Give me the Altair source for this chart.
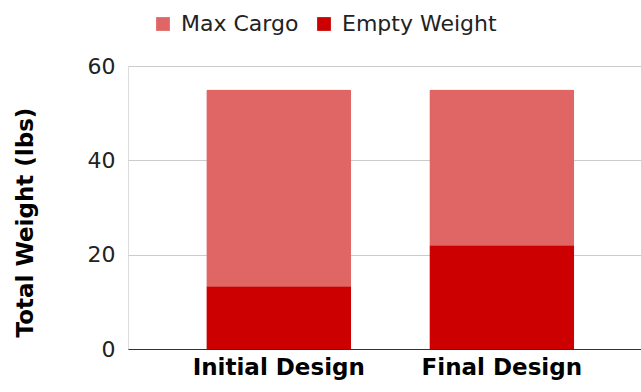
import altair as alt
import pandas as pd

designs = ["Initial Design", "Final Design"]
empty_weight = [13.3, 22.0]
max_cargo = [41.7, 33.0]
series = ["Max Cargo", "Empty Weight"]
colors = ["#E06666", "#CC0000"]

rows = []
for i, d in enumerate(designs):
    rows.append({"design": d, "series": "Empty Weight", "value": empty_weight[i], "stack": 0})
    rows.append({"design": d, "series": "Max Cargo", "value": max_cargo[i], "stack": 1})
df = pd.DataFrame(rows)

FONT = "DejaVu Sans"

chart = alt.Chart(df).mark_bar(cornerRadiusTopLeft=2, cornerRadiusTopRight=2).encode(
    x=alt.X(
        "design:N",
        sort=designs,
        scale=alt.Scale(paddingInner=0.35, paddingOuter=0.325, align=0.54),
        axis=alt.Axis(
            title=None,
            labelAngle=0,
            labelFont=FONT,
            labelFontSize=23,
            labelFontWeight="bold",
            labelColor="#000000",
            labelPadding=7,
            ticks=False,
            domainColor="#333333",
            domainWidth=1.2,
            grid=False,
        ),
    ),
    y=alt.Y(
        "value:Q",
        stack="zero",
        scale=alt.Scale(domain=[0, 60], nice=False),
        axis=alt.Axis(
            title="Total Weight (lbs)",
            values=[0, 20, 40, 60],
            titleFont=FONT,
            titleFontSize=23,
            titleFontWeight="bold",
            titleColor="#000000",
            titlePadding=50,
            titleY=156,
            labelFont=FONT,
            labelFontSize=22,
            labelColor="#222222",
            labelPadding=13,
            ticks=False,
            domain=False,
            gridColor="#cccccc",
            gridWidth=1,
        ),
    ),
    color=alt.Color(
        "series:N",
        scale=alt.Scale(domain=series, range=colors),
        legend=alt.Legend(
            title=None,
            orient="none",
            direction="horizontal",
            legendX=24,
            legendY=-53,
            symbolType="square",
            symbolSize=190,
            symbolStrokeWidth=0,
            labelFont=FONT,
            labelFontSize=22,
            labelColor="#222222",
            labelOffset=7,
            columnPadding=14,
        ),
    ),
    order=alt.Order("stack:Q", sort="ascending"),
).properties(
    width=513,
    height=283,
    autosize=alt.AutoSizeParams(type="none"),
    padding={"left": 128, "top": 66, "right": 0, "bottom": 43},
).configure_view(
    strokeWidth=0
).configure(
    background="white"
)

chart.save("out.html", embed_options={"renderer": "svg", "actions": False})
